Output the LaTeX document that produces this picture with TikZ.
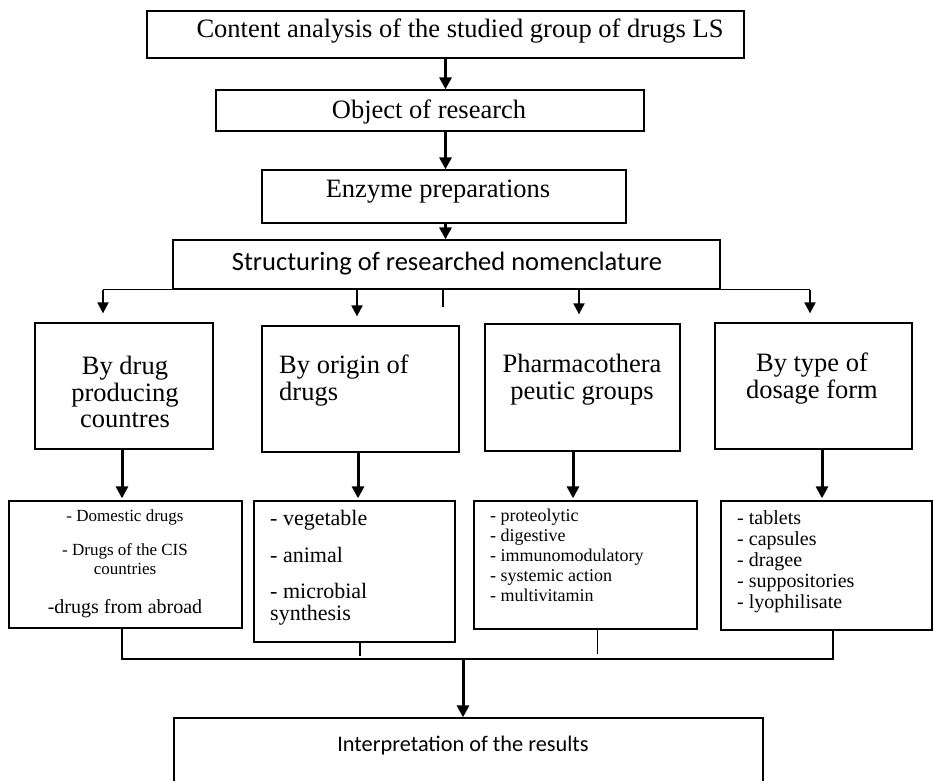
\documentclass[tikz,border=0pt]{standalone}
\usepackage{fontspec}
\setmainfont{Liberation Serif}
\newfontfamily\calibri{Carlito}
\usetikzlibrary{arrows.meta}

\tikzset{
  box/.style={draw, line width=1.3pt, inner sep=0pt},
  txt/.style={inner sep=0pt, font=\fontsize{26.5}{26.5}\selectfont},
  sans/.style={inner sep=0pt, font=\calibri\fontsize{26.5}{27}\selectfont},
  item/.style={inner sep=0pt, align=left, anchor=north west},
  arr/.style={line width=3pt, -{Triangle[length=12pt,width=12pt]}},
  farr/.style={line width=2pt, -{Triangle[length=11pt,width=11pt]}, shorten >=9pt},
  link/.style={line width=1.5pt},
}

\begin{document}
\begin{tikzpicture}[x=1pt,y=-1pt]
    \useasboundingbox (0,0) rectangle (933,780);
    \clip (0,0) rectangle (933,780);

    % boxes
    \node[box, minimum width=597pt, minimum height=47pt] (top) at (445.5,34.5) {};
    \node[box, minimum width=428pt, minimum height=41pt] (obj) at (430,110.5) {};
    \node[box, minimum width=364pt, minimum height=53pt] (enz) at (444,196.5) {};
    \node[box, minimum width=547pt, minimum height=49pt] (str) at (446.5,264.5) {};

    \node[box, minimum width=178pt, minimum height=126pt] (cntr) at (124,386) {};
    \node[box, minimum width=197pt, minimum height=126pt] (orig) at (360.5,389) {};
    \node[box, minimum width=195pt, minimum height=127pt] (phar) at (582.5,387.5) {};
    \node[box, minimum width=197pt, minimum height=126pt] (dose) at (813.5,386) {};

    \node[box, minimum width=233pt, minimum height=127pt] (cntrL) at (125.5,564.5) {};
    \node[box, minimum width=201pt, minimum height=141pt] (origL) at (354.5,571.5) {};
    \node[box, minimum width=223pt, minimum height=128pt] (pharL) at (585.5,565) {};
    \node[box, minimum width=211pt, minimum height=129pt] (doseL) at (826.5,565.5) {};

    \node[box, minimum width=589pt, minimum height=120pt] (res) at (468.5,778) {};

    % texts
    \node[txt, anchor=base] (topT) at (460,37) {Content analysis of the studied group of drugs LS};
    \node[txt, anchor=base] (objT) at (429,118) {Object of research};
    \node[txt, anchor=base] (enzT) at (438,197) {Enzyme preparations};
    \node[sans, anchor=base] (strT) at (447,270) {Structuring of researched nomenclature};

    \node[txt, align=center, anchor=north] (cntrT) at (125,356) {By drug\\producing\\countres};
    \node[txt, align=left, anchor=north west] (origT) at (279,355) {By origin of\\drugs};
    \node[txt, align=center, anchor=north] (pharT) at (582,354) {Pharmacothera\\peutic groups};
    \node[txt, align=center, anchor=north] (doseT) at (812,353) {By type of\\dosage form};

    \node[inner sep=0pt, font=\fontsize{17}{19}\selectfont, anchor=base] (domT) at (125,521) {- Domestic drugs};
    \node[inner sep=0pt, font=\fontsize{17}{19}\selectfont, align=center, anchor=north] (cisT) at (125,543) {- Drugs of the CIS\\countries};
    \node[inner sep=0pt, font=\fontsize{20}{22}\selectfont, anchor=base] (abrT) at (125,613) {-drugs from abroad};

    \node[item, font=\fontsize{22}{22}\selectfont] (origI) at (270,510)
      {- vegetable\\[15pt]- animal\\[14pt]- microbial\\synthesis};
    \node[item, font=\fontsize{18}{20}\selectfont] (pharI) at (490,509)
      {- proteolytic\\- digestive\\- immunomodulatory\\- systemic action\\- multivitamin};
    \node[item, font=\fontsize{20}{21}\selectfont] (doseI) at (737,510)
      {- tablets\\- capsules\\- dragee\\- suppositories\\- lyophilisate};

    \node[sans, font=\calibri\fontsize{22.3}{24}\selectfont, anchor=base] (resT) at (463,751) {Interpretation of the results};

    % arrows down the middle
    \draw[arr] (top.south) -- (top.south |- obj.north);
    \draw[arr] (top.south |- obj.south) -- (top.south |- enz.north);
    \draw[arr] (top.south |- enz.south) -- (top.south |- str.north);

    % fan out
    \draw[link] ([xshift=-21pt]cntr.north |- str.south) -- ([xshift=-3.5pt]dose.north |- str.south);
    \draw[link] ([xshift=-3.5pt]str.south) -- ++(0,17);
    \draw[farr] ([xshift=-21pt]cntr.north |- str.south) -- ([xshift=-21pt]cntr.north);
    \draw[farr] ([xshift=-3.5pt]orig.north |- str.south) -- ([xshift=-3.5pt]orig.north);
    \draw[farr] ([xshift=-3.5pt]phar.north |- str.south) -- ([xshift=-3.5pt]phar.north);
    \draw[farr] ([xshift=-3.5pt]dose.north |- str.south) -- ([xshift=-3.5pt]dose.north);

    \draw[arr, shorten >=2pt] ([xshift=-2pt]cntr.south) -- ([xshift=-2pt]cntr.south |- cntrL.north);
    \draw[arr, shorten >=2pt] ([xshift=-2.5pt]orig.south) -- ([xshift=-2.5pt]orig.south |- origL.north);
    \draw[arr, shorten >=2pt] ([xshift=-9.5pt]phar.south) -- ([xshift=-9.5pt]phar.south |- pharL.north);
    \draw[arr, shorten >=2pt] ([xshift=8.5pt]dose.south) -- ([xshift=8.5pt]dose.south |- doseL.north);

    % gather
    \coordinate (mrg) at (463,659);
    \draw[link] ([xshift=-3.5pt]cntrL.south) |- (mrg) -| ([xshift=6.5pt]doseL.south);
    \draw[link] ([xshift=5.5pt]origL.south) -- ++(0,13);
    \draw[link] ([xshift=12pt]pharL.south) -- ++(0,24);
    \draw[arr] (mrg) -- (mrg |- res.north);
\end{tikzpicture}
\end{document}
